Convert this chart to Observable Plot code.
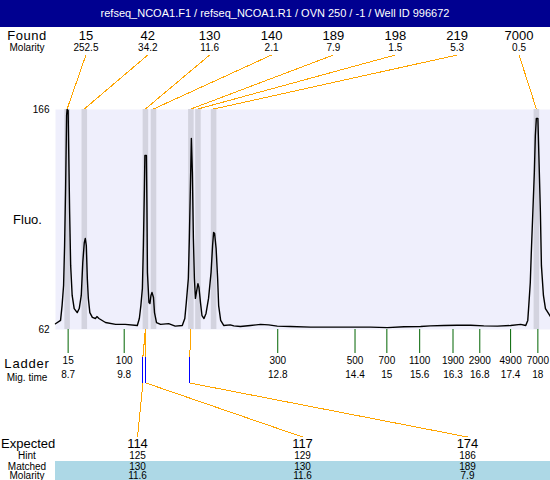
<!DOCTYPE html>
<html><head><meta charset="utf-8">
<script src="https://cdn.jsdelivr.net/npm/d3@7"></script>
<script src="https://cdn.jsdelivr.net/npm/@observablehq/plot@0.6"></script>
<style>
body{margin:0;background:#fff;font-family:"Liberation Sans",Arial,sans-serif;}
#title{width:550px;height:27px;background:#000090;color:#fff;font-size:11px;text-align:center;line-height:27px;}
</style></head><body>
<div id="title">refseq_NCOA1.F1 / refseq_NCOA1.R1 / OVN 250 / -1 / Well ID 996672</div>
<div id="chart"></div>
<script>
const foundSize = [15, 42, 130, 140, 189, 198, 219, 7000];
const foundMolarity = ["252.5", "34.2", "11.6", "2.1", "7.9", "1.5", "5.3", "0.5"];
const foundTime = [8.69, 9.03, 10.24, 10.40, 11.14, 11.28, 11.59, 17.98];

const ladderSize = [15, 100, 300, 500, 700, 1100, 1900, 2900, 4900, 7000];
const ladderTime = [8.70, 9.81, 12.85, 14.38, 15.01, 15.66, 16.32, 16.85, 17.46, 18.00];
const ladderTimeLabel = ["8.7", "9.8", "12.8", "14.4", "15", "15.6", "16.3", "16.8", "17.4", "18"];

const expectedSize = [114, 117, 174];
const hintSize = [125, 129, 186];
const matchedSize = [130, 130, 189];
const matchedMolarity = ["11.6", "11.6", "7.9"];

const yTicks = [62, 166];

const traceTime = [8.45,8.55,8.58,8.61,8.63,8.65,8.67,8.68,8.70,8.71,
8.73,8.75,8.78,8.82,8.88,8.92,8.96,8.99,9.02,9.04,
9.06,9.08,9.10,9.13,9.18,9.24,9.27,9.31,9.44,9.64,
9.83,10.07,10.11,10.14,10.17,10.19,10.21,10.22,10.25,10.26,
10.27,10.30,10.32,10.34,10.36,10.39,10.41,10.45,10.53,10.69,
10.82,10.96,11.01,11.04,11.08,11.10,11.12,11.14,11.16,11.18,
11.20,11.22,11.24,11.27,11.29,11.32,11.35,11.39,11.43,11.48,
11.53,11.56,11.58,11.60,11.63,11.66,11.68,11.72,11.78,11.91,
11.98,12.11,12.31,12.51,12.67,12.84,13.10,13.50,13.89,14.36,
14.69,15.02,15.35,15.68,15.87,16.14,16.40,16.67,16.93,17.20,
17.46,17.66,17.76,17.80,17.82,17.85,17.87,17.90,17.93,17.95,
17.97,18.00,18.02,18.05,18.07,18.11,18.15,18.21,18.25];
const traceFluo = [64.7,66.3,73.3,82.8,101.7,128.7,163.2,166,165.5,149,
117.3,92.3,78.1,71.9,70.0,71.9,78.1,93.7,103.1,105.0,
101.7,86.1,76.7,70.0,67.7,67.2,68.1,67.2,65.3,64.4,
64.4,63.9,67.2,73.3,81.4,101.7,128.7,144.3,144.3,120.6,
89.0,74.8,74.3,78.1,79.5,77.1,70.0,65.3,64.4,64.8,
63.6,63.9,67.2,74.8,86.1,105.0,128.7,152.3,136.2,105.0,
86.1,76.7,79.5,83.7,81.9,74.8,68.6,67.2,69.6,76.7,
89.0,101.7,107.9,107.4,100.3,86.1,73.3,66.3,63.9,64.2,
63.7,63.4,63.9,64.4,64.2,63.6,63.4,63.1,63.1,63.1,
63.1,62.9,63.3,63.4,63.7,63.9,64.0,64.0,63.7,63.6,
63.9,64.4,63.9,66.3,73.3,84.2,98.4,117.3,136.2,153.7,
161.8,161.8,144.3,117.3,92.3,78.1,71.9,69.6,68.1];

const FONT = "Liberation Sans, Arial, sans-serif";
const hintToTime = d3.scaleLinear().domain(ladderSize).range(ladderTime);
const bandHalf = 0.055;

function tableMark(index, scales, values, dims) {
  const x = scales.x;
  const L = dims.marginLeft, R = dims.width - dims.marginRight;
  const T = dims.marginTop, B = dims.height - dims.marginBottom;
  const g = d3.create("svg:g").attr("font-family", FONT);
  const txt = (xp, yp, s, size, opts = {}) => {
    const t = g.append("text").attr("x", xp).attr("y", yp)
      .attr("dy", "0.35em").attr("text-anchor", opts.anchor || "middle")
      .attr("font-size", size).attr("fill", "black").text(s);
    if (opts.ls) t.attr("letter-spacing", opts.ls);
    return t;
  };
  const line = (x1, y1, x2, y2, color) => g.append("line")
    .attr("x1", x1).attr("y1", y1).attr("x2", x2).attr("y2", y2)
    .attr("stroke", color).attr("stroke-width", 1).attr("shape-rendering", "crispEdges");

  // Matched / Molarity band
  g.append("rect").attr("x", L).attr("y", B + 132).attr("width", R - L)
    .attr("height", dims.height - (B + 132)).attr("fill", "#add8e6");

  // Found header
  const colW = (R - L) / foundSize.length;
  const col = i => L + (i + 0.5) * colW;
  txt(27, T - 74, "Found", 13, {ls: "0.5px"});
  txt(27, T - 61.5, "Molarity", 10);
  foundSize.forEach((s, i) => {
    txt(col(i), T - 74, String(s), 13);
    txt(col(i), T - 61.5, foundMolarity[i], 10);
    line(col(i), T - 54, x(foundTime[i]), T, "orange");
  });

  // Ladder labels
  txt(27, B + 34, "Ladder", 13, {ls: "0.8px"});
  txt(27, B + 48, "Mig. time", 10);

  // Expected table
  const eW = (R - L) / expectedSize.length;
  const ecol = j => L + (j + 0.5) * eW;
  txt(1, B + 114.5, "Expected", 13, {anchor: "start"});
  txt(27, B + 126.5, "Hint", 10);
  txt(27, B + 137, "Matched", 10);
  txt(27, B + 146.5, "Molarity", 10);
  expectedSize.forEach((e, j) => {
    const mt = foundTime[foundSize.indexOf(matchedSize[j])];
    const ht = hintToTime(hintSize[j]);
    line(x(mt), B, x(ht), B + 28, "orange");
    line(x(ht), B + 28, x(ht), B + 54, "blue");
    line(x(ht), B + 54, ecol(j), B + 108, "orange");
    txt(ecol(j), B + 114.5, String(e), 13);
    txt(ecol(j), B + 126.5, String(hintSize[j]), 10);
    txt(ecol(j), B + 137, String(matchedSize[j]), 10);
    txt(ecol(j), B + 146.5, matchedMolarity[j], 10);
  });
  return g.node();
}

const chart = Plot.plot({
  width: 550,
  height: 453,
  marginLeft: 55,
  marginRight: 0,
  marginTop: 82,
  marginBottom: 151,
  style: {fontFamily: FONT, background: "white", color: "black"},
  x: {domain: [8.45, 18.25]},
  y: {domain: [62, 166]},
  marks: [
    Plot.frame({fill: "#efeffc", stroke: "none"}),
    Plot.rect(foundTime, {x1: d => d - bandHalf, x2: d => d + bandHalf, fill: "#d3d3df"}),
    Plot.line(traceTime, {x: d => d, y: (d, i) => traceFluo[i], stroke: "black", strokeWidth: 1.4}),
    Plot.axisY({ticks: yTicks, tickSize: 0, tickPadding: 6, fontSize: 10, label: null}),
    Plot.axisX({ticks: ladderTime, tickSize: 24, stroke: "#006400", tickFormat: () => "", label: null}),
    Plot.text(ladderSize, {x: (d, i) => ladderTime[i], text: d => String(d), frameAnchor: "bottom", dy: 34, fontSize: 10}),
    Plot.text(ladderTimeLabel, {x: (d, i) => ladderTime[i], text: d => d, frameAnchor: "bottom", dy: 48, fontSize: 10}),
    Plot.text(["Fluo."], {frameAnchor: "left", dx: -28, text: d => d, fontSize: 13, textAnchor: "middle"}),
    tableMark
  ]
});
document.getElementById("chart").appendChild(chart);
</script>
</body></html>
